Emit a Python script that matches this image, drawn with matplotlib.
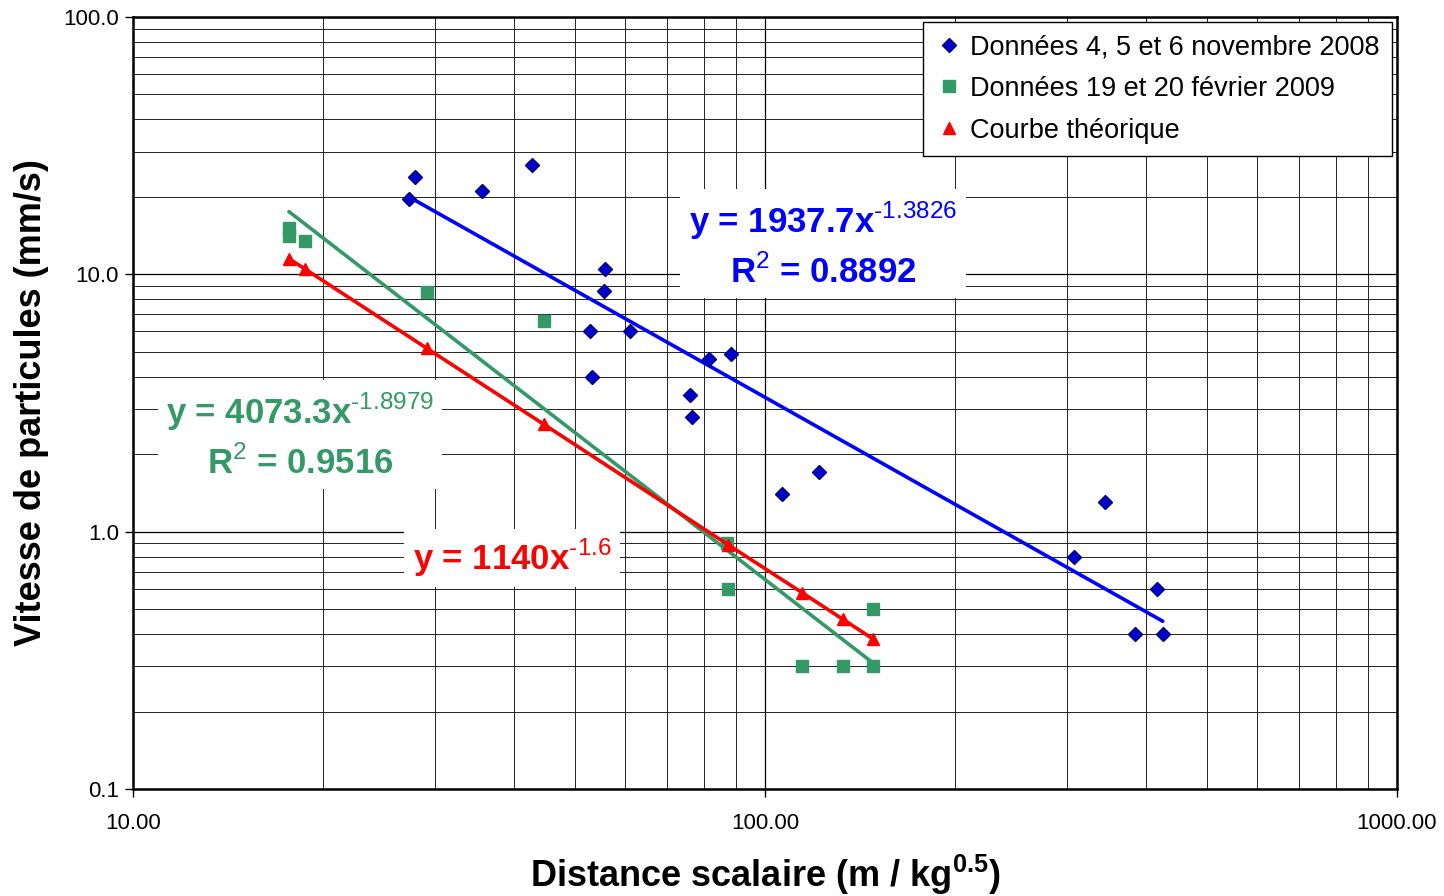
import numpy as np
import matplotlib
matplotlib.use("Agg")
import matplotlib.pyplot as plt
from matplotlib.lines import Line2D
from matplotlib.ticker import LogLocator, FixedFormatter, NullFormatter

plt.rcParams['font.family'] = ['Liberation Sans', 'DejaVu Sans']
plt.rcParams['mathtext.fontset'] = 'custom'
plt.rcParams['mathtext.rm'] = 'Liberation Sans'
plt.rcParams['mathtext.bf'] = 'Liberation Sans:bold'

# Campagne 4, 5 et 6 novembre 2008
nov_x = [27.9, 27.3, 35.7, 42.8, 52.9, 53.2, 55.8, 55.6, 61.1, 76.1,
         76.6, 81.5, 88.4, 106.4, 121.8, 308, 345, 385, 417, 426]
nov_y = [23.9, 19.6, 21.1, 26.6, 6.0, 4.0, 10.5, 8.6, 6.0, 3.4,
         2.8, 4.7, 4.9, 1.4, 1.7, 0.8, 1.3, 0.4, 0.6, 0.4]

# Campagne 19 et 20 fevrier 2009
fev_x = [17.65, 17.65, 18.7, 29.2, 44.7, 87.1, 87.4, 114.4, 132.9, 148.2, 148.2]
fev_y = [15.1, 14.1, 13.5, 8.5, 6.6, 0.9, 0.6, 0.3, 0.3, 0.5, 0.3]

# Courbe theorique
theo_x = [17.65, 18.7, 29.2, 44.7, 87.4, 114.4, 132.9, 148.2]
theo_y = [11.5, 10.5, 5.15, 2.61, 0.89, 0.58, 0.456, 0.383]

# coefficients des courbes de tendance (y = a * x^b)
nov_a, nov_b, nov_r2 = 1937.7, -1.3826, 0.8892
fev_a, fev_b, fev_r2 = 4073.3, -1.8979, 0.9516
theo_a, theo_b = 1140, -1.6

labels = ['Données 4, 5 et 6 novembre 2008', 'Données 19 et 20 février 2009',
          'Courbe théorique']

blue = '#0000FF'
green = '#339966'
red = '#FF0000'

W, H = 1444, 896
fig = plt.figure(figsize=(W / 100, H / 100), dpi=100)
ax = fig.add_axes([133 / W, 1 - 789 / H, (1397 - 133) / W, (789 - 17) / H])
ax.set_xscale('log')
ax.set_yscale('log')
ax.set_xlim(10, 1000)
ax.set_ylim(0.1, 100)

# grille principale et secondaire
ax.grid(True, which='major', color='black', lw=0.9, zorder=0)
ax.grid(True, which='minor', color='#222222', lw=0.7, zorder=0)
ax.xaxis.set_minor_locator(LogLocator(base=10, subs=np.arange(2, 10)))
ax.yaxis.set_minor_locator(LogLocator(base=10, subs=np.arange(2, 10)))
ax.xaxis.set_minor_formatter(NullFormatter())
ax.yaxis.set_minor_formatter(NullFormatter())
ax.set_xticks([10, 100, 1000])
ax.xaxis.set_major_formatter(FixedFormatter(['10.00', '100.00', '1000.00']))
ax.set_yticks([0.1, 1, 10, 100])
ax.yaxis.set_major_formatter(FixedFormatter(['0.1', '1.0', '10.0', '100.0']))
ax.tick_params(which='major', length=6, width=1, labelsize=16, color='black')
ax.tick_params(axis='x', which='major', pad=11)
ax.tick_params(axis='y', which='major', pad=4)
ax.tick_params(which='minor', length=0)
for s in ax.spines.values():
    s.set_linewidth(1.8)
    s.set_zorder(5)

# courbes de tendance
def trend(xs, a, b):
    xr = np.array([min(xs), max(xs)])
    return xr, a * xr ** b

tx, ty = trend(nov_x, nov_a, nov_b)
ax.plot(tx, ty, color=blue, lw=2.6, zorder=3, solid_capstyle='round')
tx, ty = trend(fev_x, fev_a, fev_b)
ax.plot(tx, ty, color=green, lw=2.6, zorder=3, solid_capstyle='round')

diam = dict(ls='none', marker='D', ms=7.5, mfc='#0000CC', mec='#000080', mew=1)
sq = dict(ls='none', marker='s', ms=9, mfc=green, mec=green)
tri = dict(marker='^', ms=9, mfc=red, mec=red)

ax.plot(nov_x, nov_y, zorder=4, **diam)
ax.plot(fev_x, fev_y, zorder=4, **sq)
ax.plot(theo_x, theo_y, color=red, lw=2.6, zorder=4, **tri)

# equations des courbes
def eq_label(px, py, txt, color):
    fig.text(px / W, 1 - py / H, txt, ha='center', va='center', fontsize=25,
             fontweight='bold', color=color, linespacing=1.45, zorder=6,
             bbox=dict(facecolor='white', edgecolor='none', pad=6))

def power(a, b):
    return f'y = {a}x$^{{\\mathrm{{\u2010{abs(b)}}}}}$'

eq_label(823, 245, power(nov_a, nov_b) + f'\nR$^{{\\mathrm{{2}}}}$ = {nov_r2}', blue)
eq_label(300, 436, power(fev_a, fev_b) + f'\nR$^{{\\mathrm{{2}}}}$ = {fev_r2}', green)
eq_label(512, 558, power(theo_a, theo_b), red)

# legende : marqueurs seuls
handles = [Line2D([], [], **diam), Line2D([], [], **sq),
           Line2D([], [], ls='none', **tri)]
leg = ax.legend(handles, labels, loc='upper right', bbox_to_anchor=(0.996, 0.9935),
                fontsize=19.5, frameon=True, fancybox=False, framealpha=1,
                edgecolor='black', borderaxespad=0, handlelength=1.0,
                handletextpad=0.3, borderpad=0.45, labelspacing=0.58,
                markerscale=0.95)
leg.get_frame().set_linewidth(1.0)
leg.set_zorder(7)

ax.set_xlabel('Distance scalaire (m / kg$^{\\mathbf{0.5}}$)', fontsize=26,
              fontweight='bold', labelpad=14)
ax.set_ylabel('Vitesse de particules (mm/s)', fontsize=26, fontweight='bold',
              labelpad=10)

fig.savefig('out.png', dpi=100)
